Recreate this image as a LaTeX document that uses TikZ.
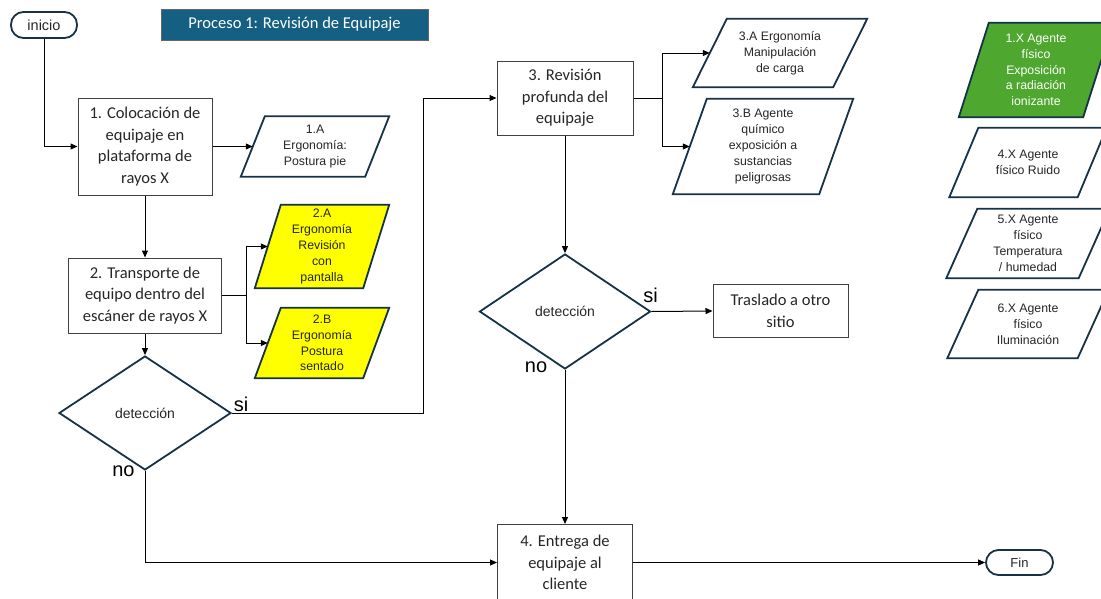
\documentclass[tikz,border=0pt]{standalone}
\usepackage{fontspec}
\setmainfont{Carlito}
\newfontfamily\arial{Liberation Sans}
\usetikzlibrary{arrows.meta,shapes.geometric,backgrounds}
\definecolor{marino}{HTML}{163246}
\definecolor{azultitulo}{HTML}{156082}
\definecolor{verde}{HTML}{4EA72E}
\definecolor{amarillo}{HTML}{FFFF00}
\definecolor{texto}{HTML}{262626}
\tikzset{
  caja/.style={draw=black!75, line width=1pt, align=center, text=texto, inner sep=0pt,
    font=\fontsize{16.5}{21.5}\selectfont},
  agente/.style={align=center, text=texto, inner sep=0pt, font=\arial\fontsize{12.3}{15.8}\selectfont},
  borde/.style={draw=marino, line width=1.8pt},
  decision/.style={diamond, draw=marino, line width=1.8pt, inner sep=0pt, text=texto,
    font=\arial\fontsize{14}{16}\selectfont},
  terminal/.style={draw=marino, line width=1.8pt, rounded corners=12.5pt, text=texto},
  flecha/.style={-{Triangle[length=7pt,width=6pt]}, line width=1pt},
  rotulo/.style={anchor=base, inner sep=0pt, font=\arial\fontsize{20}{22}\selectfont}
}
\begin{document}
\begin{tikzpicture}[x=1pt,y=-1pt]
  \useasboundingbox (0,0) rectangle (1101,598);
  \node[terminal, minimum width=66, minimum height=26, font=\arial\fontsize{14.5}{16}\selectfont] (inicio) at (44,25) {inicio};
  \node[fill=azultitulo, draw=black!60, minimum width=267, minimum height=31, text=white,
    font=\fontsize{16.5}{20}\selectfont] (titulo) at (294.5,24.5) {Proceso 1: Revisión de Equipaje};
  \node[caja, minimum width=134, minimum height=97] (c1) at (145,146.5) {1. Colocación de\\equipaje en\\plataforma de\\rayos X};
  \node[agente, minimum width=124, minimum height=60] (p1A) at (315,146.5) {1.A\\Ergonomía:\\Postura pie};
  \node[caja, minimum width=153, minimum height=75] (c2) at (145,295.5) {2. Transporte de\\equipo dentro del\\escáner de rayos X};
  \node[agente, minimum width=108, minimum height=83] (p2A) at (322,246.5) {2.A\\Ergonomía\\Revisión\\con\\pantalla};
  \node[agente, minimum width=108, minimum height=70] (p2B) at (322,343) {2.B\\Ergonomía\\Postura\\sentado};
  \node[decision, minimum width=172, minimum height=114] (d1) at (145,413) {detección};
  \node[caja, minimum width=136, minimum height=74] (c3) at (565,98) {3. Revisión\\profunda del\\equipaje};
  \node[agente, minimum width=140, minimum height=68] (p3A) at (780,53) {3.A Ergonomía\\Manipulación\\de carga};
  \node[agente, minimum width=146, minimum height=95] (p3B) at (763,146.5) {3.B Agente\\químico\\exposición a\\sustancias\\peligrosas};
  \node[decision, minimum width=171, minimum height=115] (d2) at (565,311.5) {detección};
  \node[caja, minimum width=135, minimum height=53] (tras) at (780.5,311) {Traslado a otro\\sitio};
  \node[caja, minimum width=135, minimum height=76] (c4) at (565,562.5) {4. Entrega de\\equipaje al\\cliente};
  \node[terminal, minimum width=67, minimum height=25, font=\arial\fontsize{13}{16}\selectfont] (fin) at (1019.5,562.5) {Fin};
  \node[agente, text=white, minimum width=124, minimum height=94] (p1X) at (1036,70) {1.X Agente\\físico\\Exposición\\a radiación\\ionizante};
  \node[agente, minimum width=128, minimum height=69] (p4X) at (1028,162.5) {4.X Agente\\físico Ruido};
  \node[agente, minimum width=132, minimum height=69] (p5X) at (1028,243.5) {5.X Agente\\físico\\Temperatura\\/ humedad};
  \node[agente, minimum width=130, minimum height=68] (p6X) at (1028,324) {6.X Agente\\físico\\Iluminación};
  \begin{scope}[on background layer]
    \foreach \n/\d/\c in {p1A/12/white, p2A/13/amarillo, p2B/13/amarillo, p3A/17/white, p3B/17/white,
        p1X/15/verde, p4X/14.5/white, p5X/15.5/white, p6X/15.5/white}
      \draw[borde, fill=\c] ([xshift=\d pt]\n.north west) -- ([xshift=\d pt]\n.north east)
        -- ([xshift=-\d pt]\n.south east) -- ([xshift=-\d pt]\n.south west) -- cycle;
  \end{scope}
  \draw[flecha] (inicio.south) |- (c1.west);
  \draw[flecha] (c1.east) -- (p1A.west);
  \draw[flecha] (c1.south) -- (c2.north);
  \draw[flecha] (c2.east) -- ++(24,0) |- (p2A.west);
  \draw[flecha] (c2.east) -- ++(24,0) |- (p2B.west);
  \draw[flecha] (c2.south) -- (d1.north);
  \draw[flecha] (d1.east) -- ++(192,0) |- (c3.west);
  \draw[flecha] (d1.south) |- (c4.west);
  \draw[flecha] (c3.east) -- ++(29,0) |- (p3A.west);
  \draw[flecha] (c3.east) -- ++(29,0) |- (p3B.west);
  \draw[flecha] (c3.south) -- (d2.north);
  \draw[flecha] (d2.east) -- (tras.west);
  \draw[flecha] (d2.south) -- (c4.north);
  \draw[flecha] (c4.east) -- (fin.west);
  \node[rotulo] (si1) at (241,411) {si};
  \node[rotulo] (no1) at (123.5,476.5) {no};
  \node[rotulo] (si2) at (650.5,302.5) {si};
  \node[rotulo] (no2) at (536,372.5) {no};
\end{tikzpicture}
\end{document}
